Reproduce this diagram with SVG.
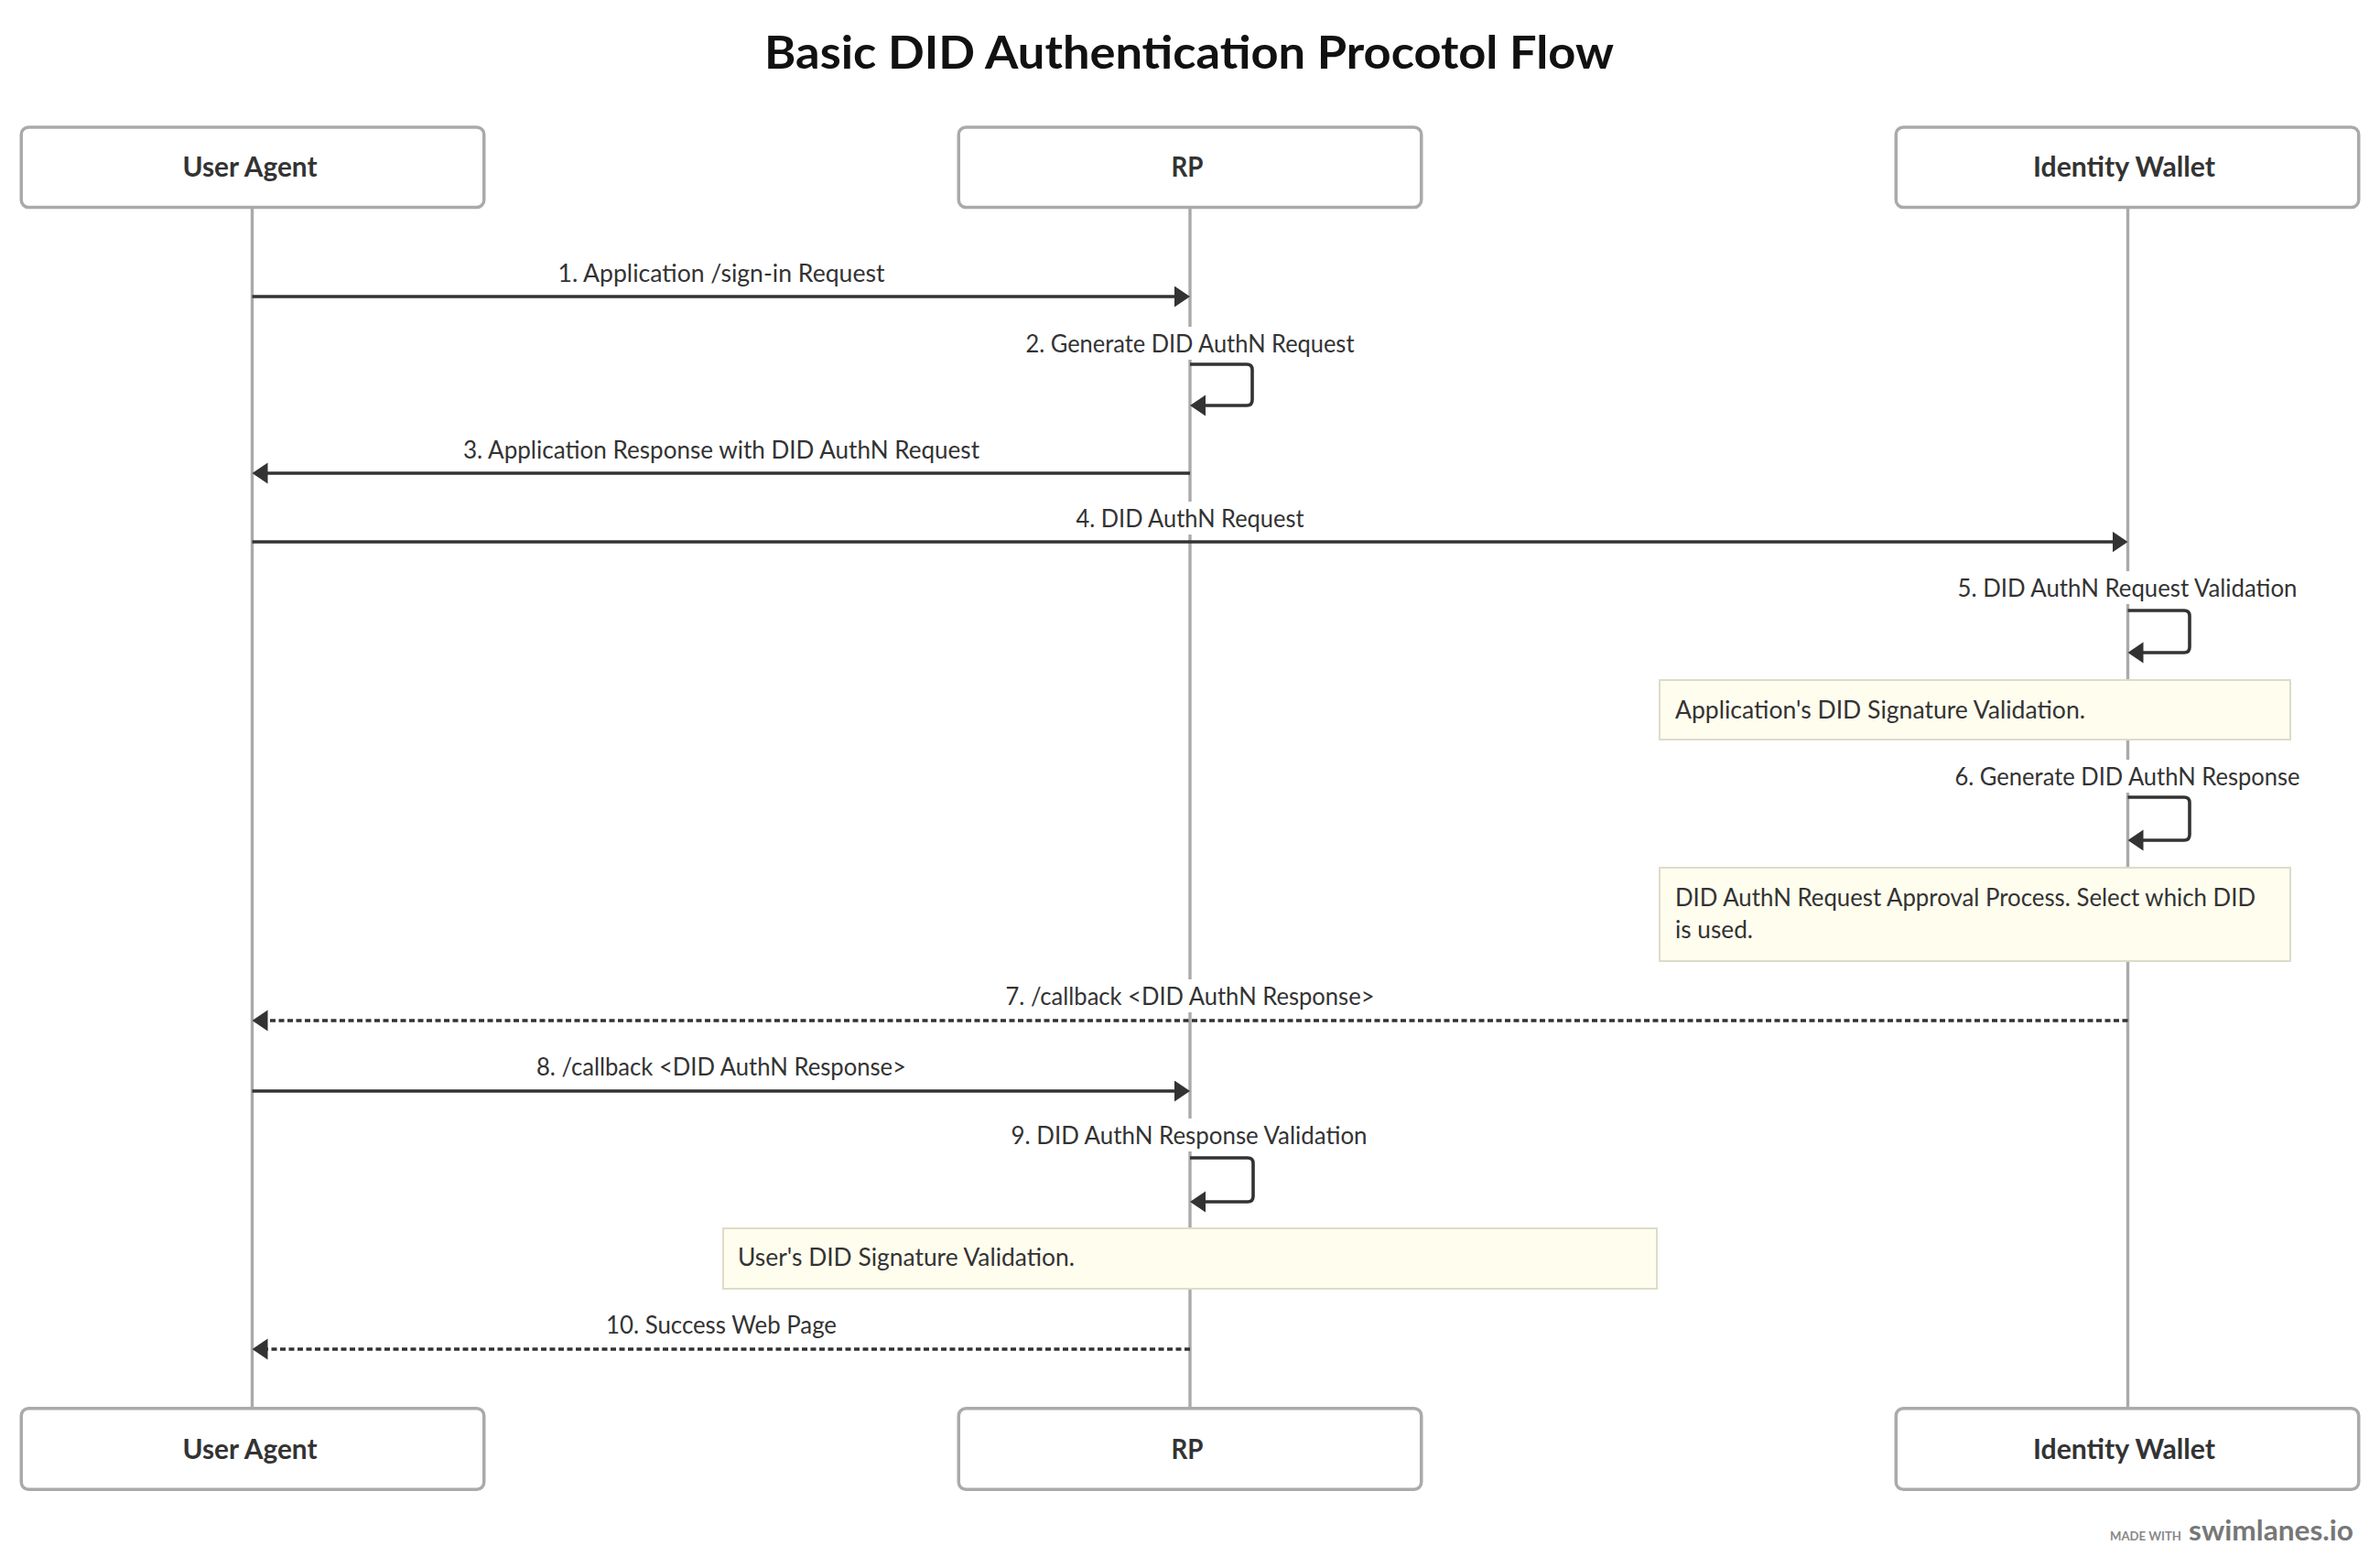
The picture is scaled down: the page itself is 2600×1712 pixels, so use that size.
<svg xmlns="http://www.w3.org/2000/svg" width="2600" height="1712" viewBox="0 0 2600 1712">
<style>
text{font-family:"Source Sans Pro",Lato,"Liberation Sans",sans-serif;fill:#333}
.title{font-size:50px;font-weight:700;fill:#111}
.actor rect{fill:#fff;stroke:#aaa;stroke-width:3.5}
.actor text{font-size:30px;font-weight:700;text-anchor:middle}
.life{stroke:#aaa;stroke-width:3.4;fill:none}
.msg{stroke:#333;stroke-width:3.6;fill:none}
.dash{stroke-dasharray:6 3.5}
.lbl{font-size:26px;text-anchor:middle}
.lblbg{fill:#fff}
.note rect{fill:#fffdee;stroke:#dddcc9;stroke-width:2}
.note text{font-size:26px}
</style>
<defs>
<marker id="ah" markerUnits="userSpaceOnUse" markerWidth="18" markerHeight="24" refX="9" refY="11.5" orient="auto">
<path d="M0,0 L17,11.5 L0,23 z" fill="#333"/>
</marker>
</defs>
<rect width="2600" height="1712" fill="#fff"/>
<text class="title" x="1299" y="75" text-anchor="middle" textLength="928" lengthAdjust="spacingAndGlyphs">Basic DID Authentication Procotol Flow</text>

<g id="lifelines">
<line class="life" x1="275.5" y1="228" x2="275.5" y2="1537"/>
<line class="life" x1="1300" y1="228" x2="1300" y2="1537"/>
<line class="life" x1="2324.5" y1="228" x2="2324.5" y2="1537"/>
</g>

<g id="actor-useragent-top" class="actor"><rect x="23.25" y="139" width="505.5" height="87.5" rx="8"/><text x="273" y="193" textLength="147" lengthAdjust="spacingAndGlyphs">User Agent</text></g>
<g id="actor-rp-top" class="actor"><rect x="1047.25" y="139" width="505.5" height="87.5" rx="8"/><text x="1297" y="193" textLength="35" lengthAdjust="spacingAndGlyphs">RP</text></g>
<g id="actor-wallet-top" class="actor"><rect x="2071.25" y="139" width="505.5" height="87.5" rx="8"/><text x="2320.5" y="193" textLength="199" lengthAdjust="spacingAndGlyphs">Identity Wallet</text></g>
<g id="actor-useragent-bottom" class="actor"><rect x="23.25" y="1538.75" width="505.5" height="88.5" rx="8"/><text x="273" y="1594" textLength="147" lengthAdjust="spacingAndGlyphs">User Agent</text></g>
<g id="actor-rp-bottom" class="actor"><rect x="1047.25" y="1538.75" width="505.5" height="88.5" rx="8"/><text x="1297" y="1594" textLength="35" lengthAdjust="spacingAndGlyphs">RP</text></g>
<g id="actor-wallet-bottom" class="actor"><rect x="2071.25" y="1538.75" width="505.5" height="88.5" rx="8"/><text x="2320.5" y="1594" textLength="199" lengthAdjust="spacingAndGlyphs">Identity Wallet</text></g>

<g id="notes">
<g id="note-1" class="note"><rect x="1813" y="743" width="689" height="65"/><text x="1830" y="785" textLength="448" lengthAdjust="spacingAndGlyphs">Application's DID Signature Validation.</text></g>
<g id="note-2" class="note"><rect x="1813" y="948" width="689" height="102"/><text x="1830" y="990" textLength="634" lengthAdjust="spacingAndGlyphs">DID AuthN Request Approval Process. Select which DID</text><text x="1830" y="1025" textLength="85" lengthAdjust="spacingAndGlyphs">is used.</text></g>
<g id="note-3" class="note"><rect x="790" y="1342" width="1020" height="66"/><text x="806" y="1383" textLength="368" lengthAdjust="spacingAndGlyphs">User's DID Signature Validation.</text></g>
</g>

<g id="connectors">
<g id="m1"><line class="msg" x1="275.5" y1="324" x2="1292" y2="324" marker-end="url(#ah)"/>
<rect class="lblbg" x="605" y="280" width="365" height="36"/><text class="lbl" x="788" y="308" textLength="357" lengthAdjust="spacingAndGlyphs">1. Application /sign-in Request</text></g>
<g id="m2"><rect class="lblbg" x="1116" y="357" width="368" height="36"/><text class="lbl" x="1300" y="385" textLength="359" lengthAdjust="spacingAndGlyphs">2. Generate DID AuthN Request</text>
<path class="msg" d="M1300,398 H1362 Q1368,398 1368,404 V437 Q1368,443 1362,443 H1308" marker-end="url(#ah)"/></g>
<g id="m3"><line class="msg" x1="1300" y1="517" x2="283.5" y2="517" marker-end="url(#ah)"/>
<rect class="lblbg" x="502" y="473" width="572" height="36"/><text class="lbl" x="788" y="501" textLength="564" lengthAdjust="spacingAndGlyphs">3. Application Response with DID AuthN Request</text></g>
<g id="m4"><line class="msg" x1="275.5" y1="592" x2="2316.5" y2="592" marker-end="url(#ah)"/>
<rect class="lblbg" x="1172" y="548" width="257" height="36"/><text class="lbl" x="1300" y="576" textLength="249" lengthAdjust="spacingAndGlyphs">4. DID AuthN Request</text></g>
<g id="m5"><rect class="lblbg" x="2134" y="624" width="380" height="36"/><text class="lbl" x="2324" y="652" textLength="371" lengthAdjust="spacingAndGlyphs">5. DID AuthN Request Validation</text>
<path class="msg" d="M2324.5,667 H2386 Q2392,667 2392,673 V707 Q2392,713 2386,713 H2332.5" marker-end="url(#ah)"/></g>
<g id="m6"><rect class="lblbg" x="2131" y="830" width="386" height="36"/><text class="lbl" x="2324" y="858" textLength="377" lengthAdjust="spacingAndGlyphs">6. Generate DID AuthN Response</text>
<path class="msg" d="M2324.5,871 H2386 Q2392,871 2392,877 V912 Q2392,918 2386,918 H2332.5" marker-end="url(#ah)"/></g>
<g id="m7"><line class="msg dash" x1="2324.5" y1="1115" x2="283.5" y2="1115" marker-end="url(#ah)"/>
<rect class="lblbg" x="1095" y="1070" width="411" height="36"/><text class="lbl" x="1300" y="1098" textLength="403" lengthAdjust="spacingAndGlyphs">7. /callback &lt;DID AuthN Response&gt;</text></g>
<g id="m8"><line class="msg" x1="275.5" y1="1192" x2="1292" y2="1192" marker-end="url(#ah)"/>
<rect class="lblbg" x="584" y="1147" width="408" height="36"/><text class="lbl" x="788" y="1175" textLength="404" lengthAdjust="spacingAndGlyphs">8. /callback &lt;DID AuthN Response&gt;</text></g>
<g id="m9"><rect class="lblbg" x="1100" y="1222" width="398" height="36"/><text class="lbl" x="1299" y="1250" textLength="389" lengthAdjust="spacingAndGlyphs">9. DID AuthN Response Validation</text>
<path class="msg" d="M1300,1265 H1363 Q1369,1265 1369,1271 V1307 Q1369,1313 1363,1313 H1308" marker-end="url(#ah)"/></g>
<g id="m10"><line class="msg dash" x1="1300" y1="1474" x2="283.5" y2="1474" marker-end="url(#ah)"/>
<rect class="lblbg" x="658" y="1429" width="260" height="36"/><text class="lbl" x="788" y="1457" textLength="252" lengthAdjust="spacingAndGlyphs">10. Success Web Page</text></g>
</g>

<g id="watermark">
<text x="2305" y="1683" font-size="14" font-weight="700" style="fill:#888" textLength="78" lengthAdjust="spacingAndGlyphs">MADE WITH</text>
<text x="2391" y="1683" font-size="30" font-weight="700" style="fill:#777" textLength="180" lengthAdjust="spacingAndGlyphs">swimlanes.io</text>
</g>
</svg>
